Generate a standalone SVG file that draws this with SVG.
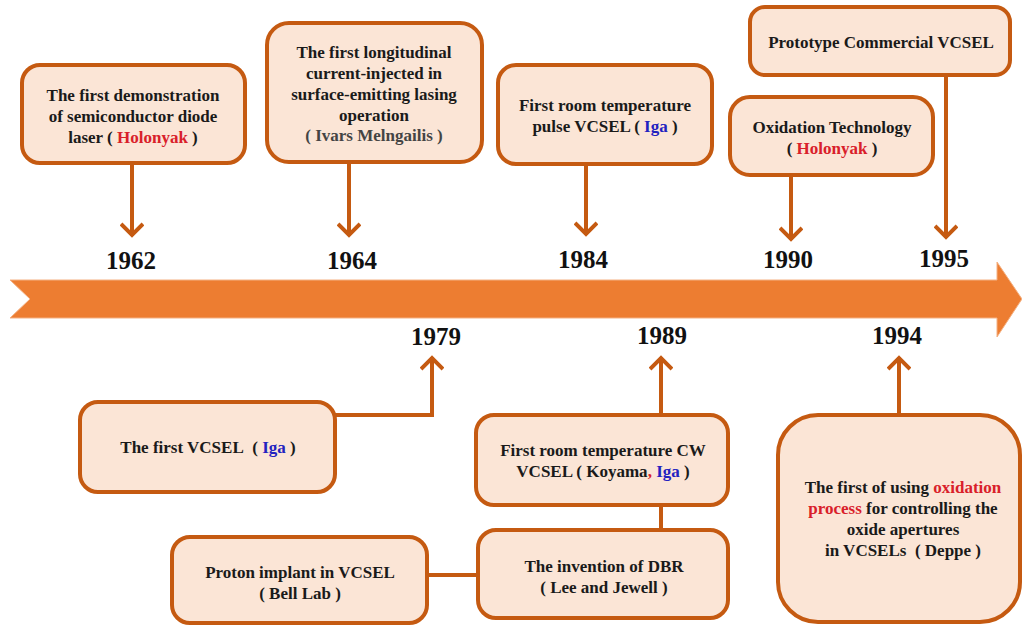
<svg xmlns="http://www.w3.org/2000/svg" width="1022" height="625" viewBox="0 0 1022 625">
  <style>
    .box { fill: #fbe5d6; stroke: #c55a11; stroke-width: 4; }
    .t { font-family: "Liberation Serif", "Times New Roman", serif; font-weight: bold; font-size: 17px; fill: #1a1a1a; text-anchor: middle; }
    .yr { font-family: "Liberation Serif", "Times New Roman", serif; font-weight: bold; font-size: 25px; fill: #111; text-anchor: middle; }
    .red { fill: #d9202a; }
    .blue { fill: #2222c0; }
    .gray { fill: #444; }
    .con { fill: none; stroke: #c55a11; stroke-width: 4; }
  </style>
  <defs>
    <marker id="ah" markerUnits="userSpaceOnUse" markerWidth="24" markerHeight="24" viewBox="0 0 24 24" refX="20" refY="12" orient="auto">
      <path d="M8,1 L19,12 L8,23" fill="none" stroke="#c55a11" stroke-width="4" stroke-linejoin="miter"/>
    </marker>
  </defs>
  <rect width="1022" height="625" fill="#ffffff"/>

  <g id="timeline">
    <path d="M10,280 L997,280 L997,262 L1022,299 L997,337 L997,318 L10,318 L30,299 Z" fill="#ed7d31" stroke="#f4b183" stroke-width="1"/>
  </g>

  <g id="connectors">
    <path class="con" d="M132,163 L132,236" marker-end="url(#ah)"/>
    <path class="con" d="M349,162 L349,236" marker-end="url(#ah)"/>
    <path class="con" d="M586,164 L586,235" marker-end="url(#ah)"/>
    <path class="con" d="M791,175 L791,240" marker-end="url(#ah)"/>
    <path class="con" d="M946,75 L946,238" marker-end="url(#ah)"/>
    <path class="con" d="M333,415 L432,415 L432,357" marker-end="url(#ah)"/>
    <path class="con" d="M661,415 L661,357" marker-end="url(#ah)"/>
    <path class="con" d="M661,505 L661,530"/>
    <path class="con" d="M427,575 L478,575"/>
    <path class="con" d="M899,415 L899,357" marker-end="url(#ah)"/>
  </g>

  <g id="years">
    <text class="yr" x="131" y="269">1962</text>
    <text class="yr" x="352" y="269">1964</text>
    <text class="yr" x="583" y="268">1984</text>
    <text class="yr" x="788" y="268">1990</text>
    <text class="yr" x="944" y="267">1995</text>
    <text class="yr" x="436" y="345">1979</text>
    <text class="yr" x="662" y="344">1989</text>
    <text class="yr" x="897" y="344">1994</text>
  </g>

  <g id="n1962">
    <rect class="box" x="22" y="65" width="223" height="98" rx="18"/>
    <text class="t" x="133" y="101">The first demonstration</text>
    <text class="t" x="133" y="122">of semiconductor diode</text>
    <text class="t" x="133" y="143">laser ( <tspan class="red">Holonyak</tspan> )</text>
  </g>

  <g id="n1964">
    <rect class="box" x="267" y="23" width="215" height="139" rx="22"/>
    <text class="t" x="374" y="58">The first longitudinal</text>
    <text class="t" x="374" y="79">current-injected in</text>
    <text class="t" x="374" y="100">surface-emitting lasing</text>
    <text class="t" x="374" y="121">operation</text>
    <text class="t gray" x="374" y="141">( Ivars Melngailis )</text>
  </g>

  <g id="n1984">
    <rect class="box" x="498" y="65" width="214" height="99" rx="18"/>
    <text class="t" x="605" y="111">First room temperature</text>
    <text class="t" x="605" y="132">pulse VCSEL ( <tspan class="blue">Iga</tspan> )</text>
  </g>

  <g id="n1990">
    <rect class="box" x="730" y="97" width="203" height="78" rx="20"/>
    <text class="t" x="832" y="133">Oxidation Technology</text>
    <text class="t" x="832" y="154">( <tspan class="red">Holonyak</tspan> )</text>
  </g>

  <g id="n1995">
    <rect class="box" x="750" y="7" width="260" height="68" rx="15"/>
    <text class="t" x="881" y="48">Prototype Commercial VCSEL</text>
  </g>

  <g id="n1979">
    <rect class="box" x="80" y="402" width="255" height="90" rx="18"/>
    <text class="t" x="208" y="453">The first VCSEL&#160; ( <tspan class="blue">Iga</tspan> )</text>
  </g>

  <g id="n1989">
    <rect class="box" x="476" y="415" width="252" height="90" rx="18"/>
    <text class="t" x="603" y="456">First room temperature CW</text>
    <text class="t" x="603" y="477">VCSEL ( Koyama<tspan class="red">,</tspan> <tspan class="blue">Iga</tspan> )</text>
  </g>

  <g id="nDBR">
    <rect class="box" x="478" y="530" width="250" height="88" rx="18"/>
    <text class="t" x="604" y="572">The invention of DBR</text>
    <text class="t" x="604" y="593">( Lee and Jewell )</text>
  </g>

  <g id="nProton">
    <rect class="box" x="172" y="537" width="255" height="86" rx="18"/>
    <text class="t" x="300" y="578">Proton implant in VCSEL</text>
    <text class="t" x="300" y="599">( Bell Lab )</text>
  </g>

  <g id="n1994">
    <rect class="box" x="778" y="415" width="242" height="207" rx="40"/>
    <text class="t" x="903" y="493">The first of using <tspan class="red">oxidation</tspan></text>
    <text class="t" x="903" y="514"><tspan class="red">process</tspan> for controlling the</text>
    <text class="t" x="903" y="535">oxide apertures</text>
    <text class="t" x="903" y="556">in VCSELs&#160; ( Deppe )</text>
  </g>
</svg>
